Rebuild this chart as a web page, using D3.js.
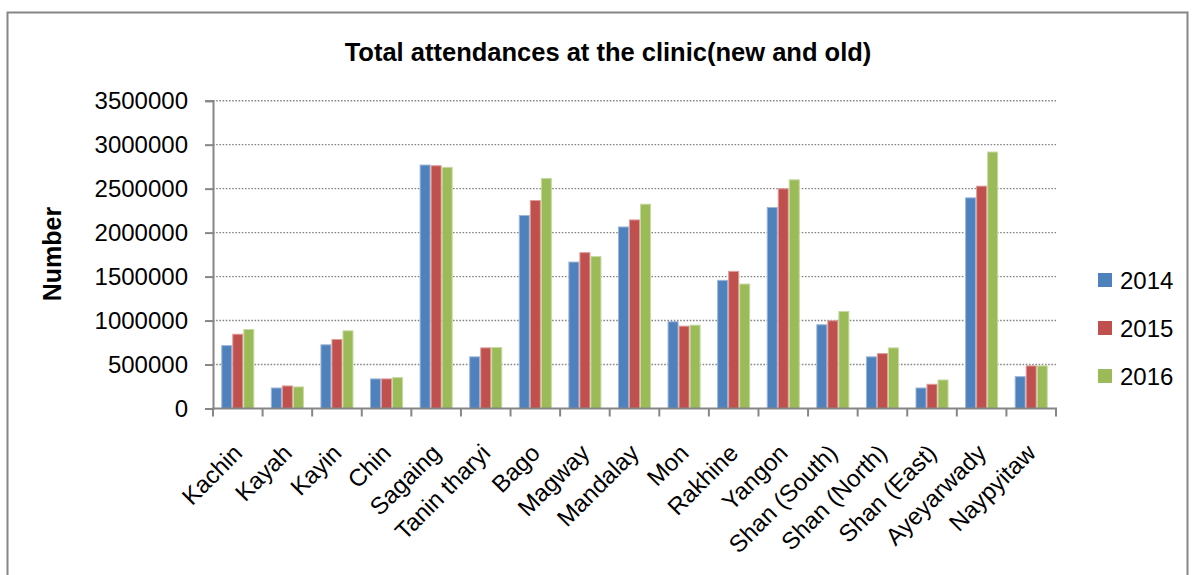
<!DOCTYPE html>
<html>
<head>
<meta charset="utf-8">
<script src="https://cdn.jsdelivr.net/npm/d3@7"></script>
<style>
  html, body { margin: 0; padding: 0; background: #fff; }
  svg { display: block; font-family: "Liberation Sans", Arial, sans-serif; }
</style>
</head>
<body>
<svg id="chart" width="1194" height="575"></svg>
<script>
// Regions (x-axis categories)
const regions = ["Kachin", "Kayah", "Kayin", "Chin", "Sagaing", "Tanin tharyi", "Bago",
  "Magway", "Mandalay", "Mon", "Rakhine", "Yangon", "Shan (South)", "Shan (North)",
  "Shan (East)", "Ayeyarwady", "Naypyitaw"];

// Total attendances per year
const years = ["2014", "2015", "2016"];
const values2014 = [721000, 239000, 730000, 342000, 2774000, 593000, 2200000, 1671000, 2070000,
  992000, 1463000, 2291000, 958000, 593000, 239000, 2401000, 368000];
const values2015 = [850000, 262000, 790000, 342000, 2766000, 695000, 2371000, 1778000, 2150000,
  942000, 1565000, 2504000, 1003000, 630000, 281000, 2534000, 490000];
const values2016 = [904000, 251000, 889000, 357000, 2748000, 699000, 2622000, 1733000, 2329000,
  953000, 1421000, 2606000, 1109000, 695000, 330000, 2922000, 490000];

const yTicks = [0, 500000, 1000000, 1500000, 2000000, 2500000, 3000000, 3500000];
const colors = ["#4F81BD", "#C0504D", "#9BBB59"];
const edgeColors = ["#9DB6DA", "#DE9C9A", "#C7DAA2"];

const series = [values2014, values2015, values2016];

const svg = d3.select("#chart");
const axisGrey = "#868686";

// Chart frame
svg.append("rect")
  .attr("x", 7.5).attr("y", 12.5)
  .attr("width", 1180).attr("height", 600)
  .attr("fill", "none").attr("stroke", axisGrey).attr("stroke-width", 2);

const plot = { left: 213, right: 1056, top: 100.7, bottom: 408.5 };

const x = d3.scaleBand().domain(regions).range([plot.left, plot.right]).paddingInner(0).paddingOuter(0);
const y = d3.scaleLinear().domain([0, 3500000]).range([plot.bottom, plot.top]);

// Bars take 3 of 4.5 slots in each band (gap width 150%)
const barW = x.bandwidth() / 4.5;
const groupOffset = (x.bandwidth() - 3 * barW) / 2;

// Dotted horizontal gridlines
svg.append("g")
  .selectAll("line")
  .data(yTicks.filter(d => d > 0))
  .join("line")
  .attr("x1", plot.left).attr("x2", plot.right)
  .attr("y1", d => y(d)).attr("y2", d => y(d))
  .attr("stroke", axisGrey).attr("stroke-width", 1.4)
  .attr("stroke-dasharray", "1.6,1.6");

// Bars
const rows = regions.map((r, i) => ({ region: r, vals: series.map(s => s[i]) }));
const groups = svg.append("g").selectAll("g")
  .data(rows).join("g")
  .attr("transform", d => `translate(${x(d.region) + groupOffset},0)`);
groups.selectAll("rect")
  .data(d => d.vals.map((v, k) => ({ v, k })))
  .join("rect")
  .attr("x", d => d.k * barW + 0.5)
  .attr("y", d => y(d.v) + 0.5)
  .attr("width", barW - 1)
  .attr("height", d => Math.max(0, y(0) - y(d.v) - 0.5))
  .attr("fill", d => colors[d.k])
  .attr("stroke", d => edgeColors[d.k])
  .attr("stroke-width", 1);

// Y axis
const yAxis = d3.axisLeft(y).tickValues(yTicks).tickFormat(d3.format("d"))
  .tickSize(8).tickPadding(17);
const gy = svg.append("g").attr("transform", `translate(${plot.left},0)`).call(yAxis);
gy.select(".domain").attr("stroke", axisGrey).attr("stroke-width", 2);
gy.selectAll(".tick line").attr("stroke", axisGrey).attr("stroke-width", 2);
gy.selectAll(".tick text").attr("font-size", 24).attr("fill", "#000")
  .attr("font-family", "'Liberation Sans', Arial, sans-serif");

// X axis with tick marks at band boundaries
svg.append("line")
  .attr("x1", plot.left - 1).attr("x2", plot.right + 1)
  .attr("y1", plot.bottom).attr("y2", plot.bottom)
  .attr("stroke", axisGrey).attr("stroke-width", 2);
const boundaries = regions.map(r => x(r)).concat([plot.right]);
svg.append("g").selectAll("line")
  .data(boundaries).join("line")
  .attr("x1", d => d).attr("x2", d => d)
  .attr("y1", plot.bottom).attr("y2", plot.bottom + 8)
  .attr("stroke", axisGrey).attr("stroke-width", 2);

// Rotated category labels
svg.append("g").selectAll("text")
  .data(regions).join("text")
  .attr("transform", d => `translate(${x(d) + x.bandwidth() / 2 + 6},${plot.bottom + 46}) rotate(-45)`)
  .attr("text-anchor", "end")
  .attr("font-size", 24)
  .attr("fill", "#000")
  .text(d => d);

// Title
svg.append("text")
  .attr("x", 608).attr("y", 61)
  .attr("text-anchor", "middle")
  .attr("font-size", 25.5).attr("font-weight", "bold")
  .text("Total attendances at the clinic(new and old)");

// Y axis title
svg.append("text")
  .attr("transform", "translate(61,254) rotate(-90)")
  .attr("text-anchor", "middle")
  .attr("font-size", 25).attr("font-weight", "bold")
  .text("Number");

// Legend
const legend = svg.append("g").selectAll("g")
  .data(years).join("g")
  .attr("transform", (d, i) => `translate(1098,${280 + i * 48})`);
legend.append("rect")
  .attr("x", 0).attr("y", -7).attr("width", 14).attr("height", 14)
  .attr("fill", (d, i) => colors[i]);
legend.append("text")
  .attr("x", 22).attr("y", 0).attr("dy", "0.36em")
  .attr("font-size", 24).attr("fill", "#000")
  .text(d => d);
</script>
</body>
</html>
